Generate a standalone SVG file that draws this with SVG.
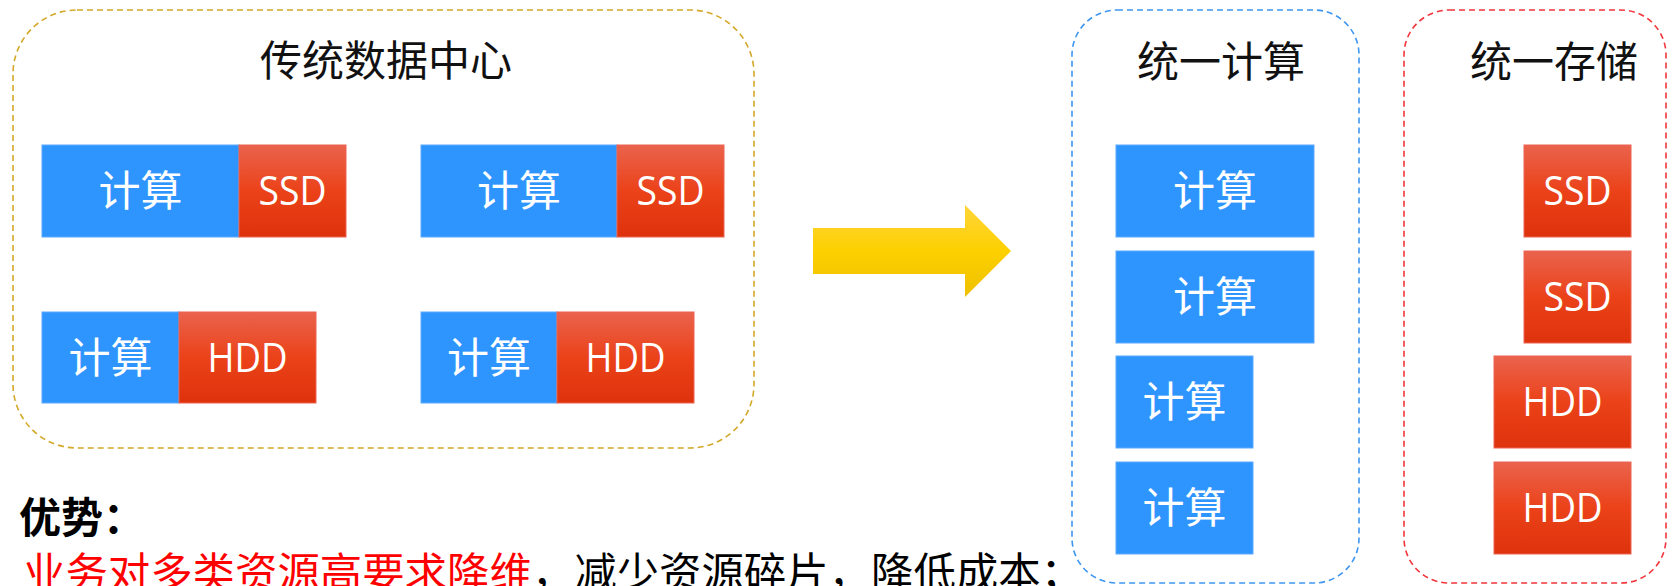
<svg xmlns="http://www.w3.org/2000/svg" width="1672" height="586" viewBox="0 0 1672 586">
<defs>
<linearGradient id="gRed" x1="0" y1="0" x2="0" y2="1">
<stop offset="0" stop-color="#ea634d"/>
<stop offset="0.5" stop-color="#eb4219"/>
<stop offset="1" stop-color="#de320c"/>
</linearGradient>
<linearGradient id="gYel" x1="0" y1="0" x2="0" y2="1">
<stop offset="0" stop-color="#ffd53a"/>
<stop offset="0.5" stop-color="#fdd000"/>
<stop offset="1" stop-color="#eec000"/>
</linearGradient>
<style>
.cn{font-family:"Noto Sans CJK SC","Noto Sans",sans-serif;}
.title{font-size:42px;fill:#111;text-anchor:middle;}
.blue{fill:#2e95ff;stroke:#5aa9ff;stroke-width:1;}
.red{fill:url(#gRed);stroke:#ec6450;stroke-width:1;}
.wcn{font-family:"Noto Sans CJK SC",sans-serif;font-size:42px;fill:#fff;text-anchor:middle;}
.wen{font-family:"Open Sans","Noto Sans",sans-serif;font-size:40px;fill:#fff;text-anchor:middle;}
.frame{fill:none;stroke-width:1.6;stroke-dasharray:6 4;}
</style>
</defs>
<rect width="1672" height="586" fill="#ffffff"/>

<g id="traditional-dc">
<rect class="frame" x="13" y="10" width="741" height="438" rx="64" ry="64" stroke="#d4a828"/>
<text class="cn title" x="386" y="76">传统数据中心</text>
</g>

<g id="node-1">
<rect class="blue" x="42" y="145" width="197" height="92"/>
<text class="wcn" x="140.5" y="206">计算</text>
<rect class="red" x="239" y="145" width="107" height="92"/>
<text class="wen" x="292.5" y="205" textLength="68" lengthAdjust="spacingAndGlyphs">SSD</text>
</g>
<g id="node-2">
<rect class="blue" x="421" y="145" width="196" height="92"/>
<text class="wcn" x="519" y="206">计算</text>
<rect class="red" x="617" y="145" width="107" height="92"/>
<text class="wen" x="670.5" y="205" textLength="68" lengthAdjust="spacingAndGlyphs">SSD</text>
</g>
<g id="node-3">
<rect class="blue" x="42" y="312" width="137" height="91"/>
<text class="wcn" x="110.5" y="373">计算</text>
<rect class="red" x="179" y="312" width="137" height="91"/>
<text class="wen" x="247.5" y="372" textLength="80" lengthAdjust="spacingAndGlyphs">HDD</text>
</g>
<g id="node-4">
<rect class="blue" x="421" y="312" width="136" height="91"/>
<text class="wcn" x="489" y="373">计算</text>
<rect class="red" x="557" y="312" width="137" height="91"/>
<text class="wen" x="625.5" y="372" textLength="80" lengthAdjust="spacingAndGlyphs">HDD</text>
</g>

<g id="connectors">
<polygon points="813,228 965,228 965,205 1011,251 965,297 965,274 813,274" fill="url(#gYel)"/>
</g>

<g id="unified-compute">
<rect class="frame" x="1072" y="10" width="287" height="573" rx="45" ry="45" stroke="#3e96f0"/>
<text class="cn title" x="1221" y="77">统一计算</text>
</g>
<g id="compute-1">
<rect class="blue" x="1116" y="145" width="198" height="92"/>
<text class="wcn" x="1215" y="206">计算</text>
</g>
<g id="compute-2">
<rect class="blue" x="1116" y="251" width="198" height="92"/>
<text class="wcn" x="1215" y="312">计算</text>
</g>
<g id="compute-3">
<rect class="blue" x="1116" y="356" width="137" height="92"/>
<text class="wcn" x="1184.5" y="417">计算</text>
</g>
<g id="compute-4">
<rect class="blue" x="1116" y="462" width="137" height="92"/>
<text class="wcn" x="1184.5" y="523">计算</text>
</g>

<g id="unified-storage">
<rect class="frame" x="1404" y="10" width="262" height="573" rx="45" ry="45" stroke="#f0363c"/>
<text class="cn title" x="1554" y="77">统一存储</text>
</g>
<g id="storage-1">
<rect class="red" x="1524" y="145" width="107" height="92"/>
<text class="wen" x="1577.5" y="205" textLength="68" lengthAdjust="spacingAndGlyphs">SSD</text>
</g>
<g id="storage-2">
<rect class="red" x="1524" y="251" width="107" height="92"/>
<text class="wen" x="1577.5" y="311" textLength="68" lengthAdjust="spacingAndGlyphs">SSD</text>
</g>
<g id="storage-3">
<rect class="red" x="1494" y="356" width="137" height="92"/>
<text class="wen" x="1562.5" y="416" textLength="80" lengthAdjust="spacingAndGlyphs">HDD</text>
</g>
<g id="storage-4">
<rect class="red" x="1494" y="462" width="137" height="92"/>
<text class="wen" x="1562.5" y="522" textLength="80" lengthAdjust="spacingAndGlyphs">HDD</text>
</g>

<g id="advantages">
<text class="cn" x="19" y="533" font-size="42" font-weight="bold" fill="#000">优势：</text>
<text class="cn" x="23" y="588" font-size="42" fill="#000" textLength="1060" lengthAdjust="spacingAndGlyphs"><tspan fill="#ff0000">业务对多类资源高要求降维</tspan>，减少资源碎片，降低成本；</text>
</g>
</svg>
